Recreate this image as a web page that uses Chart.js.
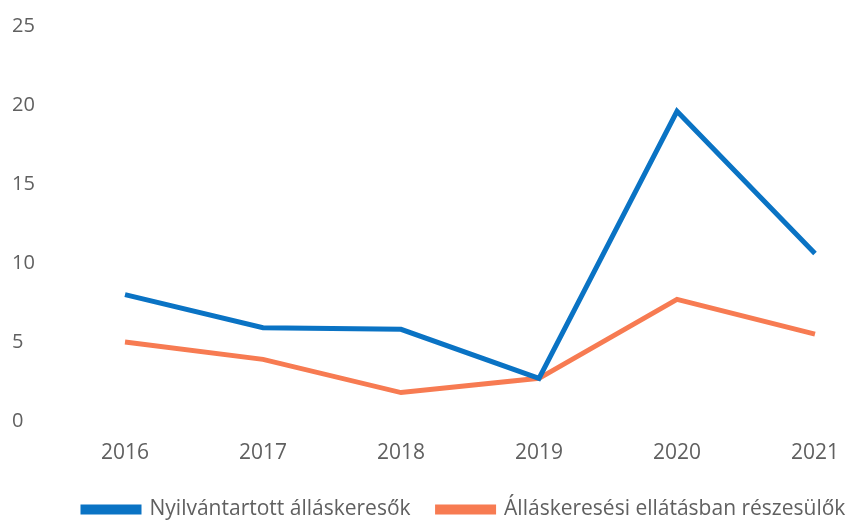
<!DOCTYPE html>
<html lang="hu">
<head>
<meta charset="utf-8">
<title>Álláskeresők 2016–2021</title>
<script src="https://cdn.jsdelivr.net/npm/chart.js@4.4.1/dist/chart.umd.min.js"></script>
<style>
  html, body { margin: 0; padding: 0; background: #fff; }
  #wrap { width: 858px; height: 522px; position: relative; }
</style>
</head>
<body>
<div id="wrap"><canvas id="chart"></canvas></div>
<script>
// évek és a két sorozat
const evek = ['2016', '2017', '2018', '2019', '2020', '2021'];
const nyilvantartott = [8.0, 5.9, 5.8, 2.7, 19.6, 10.6];
const ellatasban = [5.0, 3.9, 1.8, 2.7, 7.7, 5.5];
const yTicks = [0, 5, 10, 15, 20, 25];

const KEK = '#0A73C4';
const NARANCS = '#F77B52';
const SZURKE = '#606060';
const BETU = 'Open Sans';

const hatter = {
  id: 'hatter',
  beforeDraw(chart) {
    const { ctx, width, height } = chart;
    ctx.save();
    ctx.fillStyle = '#ffffff';
    ctx.fillRect(0, 0, width, height);
    ctx.restore();
  },
};

// a jelmagyarázat kicsit jobbra és lejjebb tolva, mint az eredetin
const legendTolas = {
  id: 'legendTolas',
  afterLayout(chart) {
    const lg = chart.legend;
    if (!lg) return;
    lg.left += 44;
    lg.right += 44;
    lg.top += 8;
    lg.bottom += 8;
  },
};

new Chart(document.getElementById('chart'), {
  type: 'line',
  data: {
    labels: evek,
    datasets: [
      {
        label: 'Nyilvántartott álláskeresők',
        data: nyilvantartott,
        borderColor: KEK,
        backgroundColor: KEK,
        borderWidth: 5,
        pointRadius: 0,
        tension: 0,
      },
      {
        label: 'Álláskeresési ellátásban részesülők',
        data: ellatasban,
        borderColor: NARANCS,
        backgroundColor: NARANCS,
        borderWidth: 5,
        pointRadius: 0,
        tension: 0,
      },
    ],
  },
  options: {
    responsive: true,
    maintainAspectRatio: false,
    animation: false,
    layout: { padding: { top: 26, right: 25, left: 12, bottom: 0 } },
    scales: {
      x: {
        offset: false,
        grid: { display: false, drawTicks: false },
        border: { display: false },
        ticks: { color: SZURKE, font: { family: BETU, size: 21 }, padding: 19, maxRotation: 0 },
        afterFit(scale) { scale.height = 43; },
      },
      y: {
        min: 0,
        max: 25,
        grid: { display: false, drawTicks: false },
        border: { display: false },
        afterBuildTicks(scale) { scale.ticks = yTicks.map((v) => ({ value: v })); },
        ticks: { color: SZURKE, font: { family: BETU, size: 20 }, padding: 0, crossAlign: 'far' },
        afterFit(scale) { scale.width = 113; },
      },
    },
    plugins: {
      legend: {
        position: 'bottom',
        align: 'start',
        labels: {
          boxWidth: 56,
          boxHeight: 5,
          padding: 27,
          color: SZURKE,
          font: { family: BETU, size: 21 },
        },
      },
      tooltip: { enabled: false },
    },
  },
  plugins: [hatter, legendTolas],
});
</script>
</body>
</html>
